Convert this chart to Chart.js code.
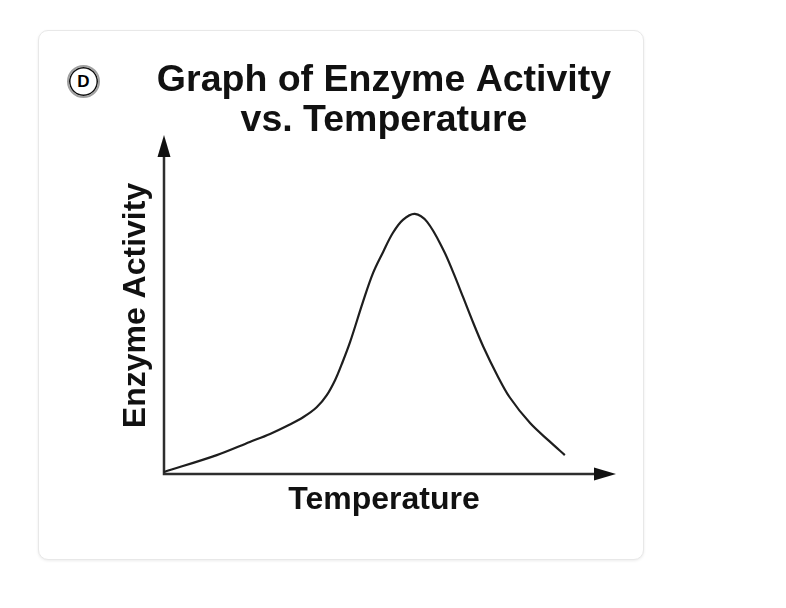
<!DOCTYPE html>
<html>
<head>
<meta charset="utf-8">
<script src="https://cdn.jsdelivr.net/npm/chart.js@4.4.1/dist/chart.umd.min.js"></script>
<style>
  html, body { margin: 0; padding: 0; background: #ffffff; }
  #wrap { position: relative; width: 786px; height: 608px; overflow: hidden; }
  #card {
    position: absolute; left: 38px; top: 30px; width: 604px; height: 528px;
    border: 1px solid #e8e8e8; border-radius: 10px;
    box-shadow: 0 1px 3px rgba(0,0,0,0.08); background: #fff;
  }
  #badge {
    position: absolute; left: 67px; top: 65px; width: 29px; height: 29px;
    border-radius: 50%; border: 2.5px solid #a0a0a0;
    box-shadow: inset 0 0 0 1.5px #111;
    font: bold 17px "Liberation Sans", Arial, sans-serif; color: #000;
    display: flex; align-items: center; justify-content: center; background: #fff;
  }
  #c { position: absolute; left: 0; top: 0; }
</style>
</head>
<body>
<div id="wrap">
  <div id="card"></div>
  <div id="badge">D</div>
  <canvas id="c" width="786" height="608"></canvas>
</div>
<script>
// Data (arbitrary units 0-100)
const temperature = [0.0, 12.0, 19.5, 24.1, 28.6, 31.7, 34.7, 37.0, 38.9, 40.4, 42.3, 45.2, 47.5, 49.8, 52.0, 54.3, 57.0, 59.8, 63.5, 65.8, 68.0, 70.3, 72.6, 75.7, 78.6, 83.2, 87.7, 91.1];
const activity    = [0.6, 5.6, 9.5, 11.9, 14.7, 16.9, 19.8, 23.4, 27.9, 32.6, 39.2, 51.0, 59.6, 65.9, 71.5, 75.4, 77.2, 74.8, 66.5, 59.6, 52.4, 44.8, 37.7, 29.4, 22.7, 15.1, 9.6, 5.6];
const titleLines = ["Graph of Enzyme Activity", "vs. Temperature"];
const xLabel = "Temperature";
const yLabel = "Enzyme Activity";

const points = temperature.map((t, i) => ({ x: t, y: activity[i] }));
const FONT = '"Liberation Sans", Arial, sans-serif';
const AXIS_COLOR = '#2e2e2e';

const arrowAxes = {
  id: 'arrowAxes',
  beforeDatasetsDraw(chart) {
    const { ctx, chartArea: a } = chart;
    const extX = 12, extY = 2, len = 22, half = 6.5;
    ctx.save();
    ctx.strokeStyle = AXIS_COLOR;
    ctx.fillStyle = '#111';
    ctx.lineWidth = 2.5;
    ctx.beginPath();
    ctx.moveTo(a.left, a.top - extY + len - 2);
    ctx.lineTo(a.left, a.bottom);
    ctx.lineTo(a.right + extX - len + 2, a.bottom);
    ctx.stroke();
    // x arrow
    ctx.beginPath();
    ctx.moveTo(a.right + extX, a.bottom);
    ctx.lineTo(a.right + extX - len, a.bottom - half);
    ctx.lineTo(a.right + extX - len, a.bottom + half);
    ctx.closePath();
    ctx.fill();
    // y arrow
    ctx.beginPath();
    ctx.moveTo(a.left, a.top - extY);
    ctx.lineTo(a.left - half, a.top - extY + len);
    ctx.lineTo(a.left + half, a.top - extY + len);
    ctx.closePath();
    ctx.fill();
    ctx.restore();
  }
};

new Chart(document.getElementById('c'), {
  type: 'scatter',
  data: {
    datasets: [{
      data: points,
      showLine: true,
      borderColor: '#1e1e1e',
      borderWidth: 2.2,
      pointRadius: 0,
      tension: 0.35,
      fill: false,
      clip: false
    }]
  },
  options: {
    responsive: false,
    animation: false,
    devicePixelRatio: 1,
    layout: { padding: { left: 116.8, right: 134.8, top: 60.5, bottom: 88.8 } },
    plugins: {
      legend: { display: false },
      tooltip: { enabled: false },
      title: {
        display: true,
        fullSize: true,
        text: titleLines,
        color: '#111',
        font: { family: FONT, size: 37.5, weight: 'bold', lineHeight: 40 / 37.5 },
        padding: { top: 0, bottom: -3.5 }
      }
    },
    scales: {
      x: {
        type: 'linear', min: 0, max: 100,
        grid: { display: false, drawTicks: false },
        border: { display: false },
        ticks: { display: false },
        title: {
          display: true, text: xLabel, color: '#111',
          font: { family: FONT, size: 32, weight: 'bold', lineHeight: 1.2 },
          padding: { top: 6.8, bottom: 0 }
        }
      },
      y: {
        type: 'linear', min: 0, max: 100,
        grid: { display: false, drawTicks: false },
        border: { display: false },
        ticks: { display: false },
        title: {
          display: true, text: yLabel, color: '#111',
          font: { family: FONT, size: 32, weight: 'bold', lineHeight: 1.2 },
          padding: { top: 0, bottom: 8.8 }
        }
      },
      yRightSpacer: {
        type: 'linear', position: 'right', min: 0, max: 100,
        display: true,
        grid: { display: false, drawTicks: false },
        border: { display: false },
        ticks: { display: false },
        afterFit(scale) { scale.width = 47.2; }
      }
    }
  },
  plugins: [arrowAxes]
});
</script>
</body>
</html>
